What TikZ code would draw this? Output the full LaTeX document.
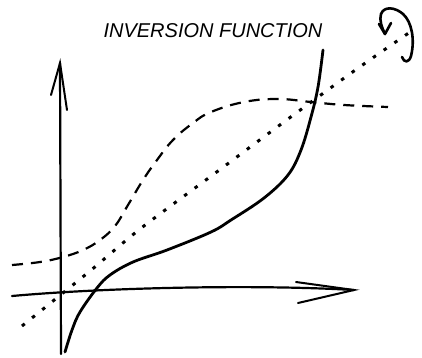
\documentclass[tikz,border=0pt]{standalone}
\usepackage{fontspec}
\setmainfont{Liberation Sans}
\begin{document}
\begin{tikzpicture}[x=1pt,y=-1pt,
  axis/.style={line width=2.2pt, line cap=round},
  barb/.style={line width=2pt, line cap=round},
  solidcurve/.style={line width=2.8pt, line cap=round},
  dashcurve/.style={line width=2.2pt, dash pattern=on 11pt off 8pt},
  dotline/.style={line width=3pt, dash pattern=on 3.5pt off 9.5pt},
  rotarrow/.style={line width=2.6pt, line cap=round, line join=round}]
\useasboundingbox (0,0) rectangle (422,357);

% title
\node[anchor=base, inner sep=0pt, font=\fontsize{20}{24}\selectfont\itshape] (title) at (213,37) {INVERSION FUNCTION};

% vertical axis
\coordinate (vbot) at (61,354);
\coordinate (vtop) at (60,63);
\coordinate (vbl) at (51,95);
\coordinate (vbr) at (67,110);
\draw[axis] (vbot) -- (vtop);
\draw[barb] (vbl) -- (vtop) -- (vbr);

% horizontal axis
\coordinate (hleft) at (12,296);
\coordinate (htip) at (354,290);
\coordinate (hbu) at (296,282);
\coordinate (hbl) at (298,303);
\draw[axis] (hleft) .. controls (100,288) and (250,284) .. (htip);
\draw[barb] (hbu) -- (htip) -- (hbl);

% dashed curve
\draw[dashcurve] plot[smooth, tension=0.7] coordinates {(12,265) (40,262) (63,257) (83,250) (100,240) (115,226) (128,205) (143,180) (157,160) (173,140) (193,123) (211,112) (244,102) (278,99) (311,102) (344,105) (388,107)};

% dotted line
\draw[dotline] plot[smooth, tension=0.5] coordinates {(22,326) (90,271) (140,229) (218,171) (288,119) (354,71) (413,30)};

% solid curve
\draw[solidcurve] plot[smooth, tension=0.6] coordinates {(65,352) (72,330) (80,312) (97,288) (110,275) (133,262) (167,250) (211,232) (231,220) (264,198) (288,175) (301,150) (311,117) (318,87) (323,50)};

% rotation arrow
\coordinate (rstart) at (402,57);
\coordinate (rtip) at (385,34);
\draw[rotarrow] (rstart) .. controls (404,63) and (409,63) .. (411,56)
  .. controls (415,40) and (412,22) .. (403,14)
  .. controls (395,7) and (384,6) .. (381,14)
  .. controls (379,20) and (382,28) .. (rtip);
\draw[rotarrow] (379,24) -- (rtip) -- (391,23);
\end{tikzpicture}
\end{document}
